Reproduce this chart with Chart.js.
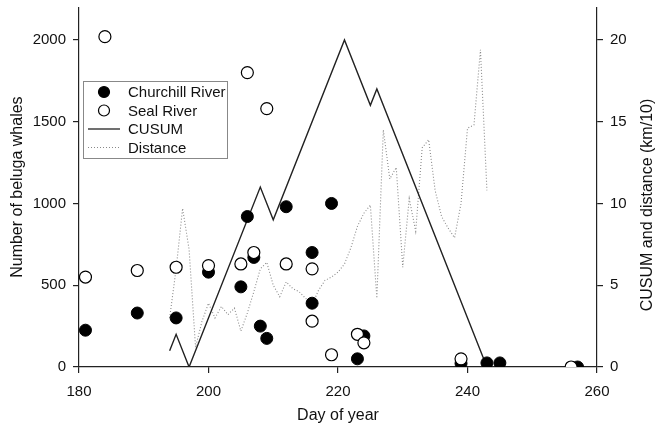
<!DOCTYPE html>
<html>
<head>
<meta charset="utf-8">
<script src="https://cdn.jsdelivr.net/npm/chart.js@4.4.1/dist/chart.umd.min.js"></script>
<style>
  html, body { margin: 0; padding: 0; background: #fff; }
  #wrap { width: 662px; height: 431px; }
</style>
</head>
<body>
<div id="wrap"><canvas id="chart" width="662" height="431"></canvas></div>
<script>
// Churchill River counts (filled circles)
const churchillDays = [181, 189, 195, 200, 205, 206, 207, 208, 209, 212, 216, 216, 219, 223, 224, 239, 243, 245, 257];
const churchillCounts = [225, 330, 300, 580, 490, 920, 670, 250, 175, 980, 700, 390, 1000, 50, 190, 22, 25, 25, 0];

// Seal River counts (open circles)
const sealDays = [181, 184, 189, 195, 200, 205, 206, 207, 209, 212, 216, 216, 219, 223, 224, 239, 256];
const sealCounts = [550, 2020, 590, 610, 620, 630, 1800, 700, 1580, 630, 600, 280, 75, 200, 148, 50, 0];

// CUSUM (right axis)
const cusumDays = [194, 195, 197, 208, 210, 221, 225, 226, 243];
const cusumValues = [1, 2, 0, 11, 9, 20, 16, 17, 0];

// Distance, km/10 (right axis)
const distDays = [194, 195, 196, 197, 198, 199, 200, 201, 202, 203, 204, 205, 206, 207, 208, 209, 210, 211, 212, 213,
  214, 215, 216, 217, 218, 219, 220, 221, 222, 223, 224, 225, 226, 227, 228, 229, 230, 231, 232, 233,
  234, 235, 236, 237, 238, 239, 240, 241, 242, 243];
const distValues = [3.0, 6.0, 9.7, 7.2, 1.2, 2.8, 3.9, 3.0, 3.7, 3.2, 3.6, 2.2, 3.3, 4.6, 6.0, 6.4, 5.0, 4.3, 5.2, 4.8,
  4.6, 4.2, 3.8, 4.7, 5.3, 5.5, 5.8, 6.3, 7.3, 8.6, 9.4, 9.9, 4.2, 14.5, 11.5, 12.2, 6.1, 10.3, 8.3, 13.4,
  13.9, 10.8, 9.2, 8.5, 7.9, 10.0, 14.6, 14.8, 19.4, 10.8];

const xTicks = [180, 200, 220, 240, 260];
const yTicks = [0, 500, 1000, 1500, 2000];
const y1Ticks = [0, 5, 10, 15, 20];

const pts = (xs, ys) => xs.map((x, i) => ({ x: x, y: ys[i] }));

const FONT = "'Liberation Sans', Arial, sans-serif";
const INK = "#222";

const legendItems = [
  { label: "Churchill River", kind: "filled" },
  { label: "Seal River", kind: "open" },
  { label: "CUSUM", kind: "line" },
  { label: "Distance", kind: "dotted" },
];

// legend box inside the plot + right axis title (reads bottom to top)
const boxLegend = {
  id: "boxLegend",
  afterDraw(chart) {
    const ctx = chart.ctx;
    const x0 = 83, y0 = 81, w = 144, h = 77;
    ctx.save();
    ctx.fillStyle = "#fff";
    ctx.fillRect(x0, y0, w, h);
    ctx.strokeStyle = "#888";
    ctx.lineWidth = 1;
    ctx.strokeRect(x0 + 0.5, y0 + 0.5, w, h);
    ctx.font = "15px " + FONT;
    ctx.textBaseline = "middle";
    legendItems.forEach((it, i) => {
      const cy = 92 + i * 18.5;
      ctx.setLineDash([]);
      if (it.kind === "filled" || it.kind === "open") {
        ctx.beginPath();
        ctx.arc(104, cy, 5.5, 0, Math.PI * 2);
        ctx.fillStyle = it.kind === "filled" ? "#000" : "#fff";
        ctx.fill();
        ctx.strokeStyle = "#000";
        ctx.lineWidth = 1.2;
        ctx.stroke();
      } else {
        ctx.beginPath();
        ctx.moveTo(88, cy);
        ctx.lineTo(120, cy);
        if (it.kind === "dotted") {
          ctx.setLineDash([1, 2]);
          ctx.strokeStyle = "#888";
          ctx.lineWidth = 1;
        } else {
          ctx.strokeStyle = INK;
          ctx.lineWidth = 1.3;
        }
        ctx.stroke();
      }
      ctx.setLineDash([]);
      ctx.fillStyle = "#111";
      ctx.fillText(it.label, 128, cy + 1);
    });

    ctx.translate(648, 205);
    ctx.rotate(-Math.PI / 2);
    ctx.font = "16px " + FONT;
    ctx.textAlign = "center";
    ctx.fillStyle = "#111";
    ctx.fillText("CUSUM and distance (km/10)", 0, 0);
    ctx.restore();
  },
};

const axisCommon = {
  border: { display: true, color: INK, width: 1.2 },
  grid: { display: true, drawOnChartArea: false, drawTicks: true, tickLength: 6, color: INK, lineWidth: 1.2 },
};
const tickStyle = (pad) => ({ color: "#111", font: { family: FONT, size: 15 }, padding: pad, callback: (v) => String(v) });

const fixVertical = (w) => (s) => {
  s.width = w;
  s.paddingTop = 0;
  s.paddingBottom = 0;
};

new Chart(document.getElementById("chart"), {
  data: {
    datasets: [
      {
        type: "scatter",
        label: "Seal River",
        data: pts(sealDays, sealCounts),
        yAxisID: "y",
        pointRadius: 6,
        pointBackgroundColor: "#fff",
        pointBorderColor: "#000",
        pointBorderWidth: 1.2,
        order: 0,
      },
      {
        type: "scatter",
        label: "Churchill River",
        data: pts(churchillDays, churchillCounts),
        yAxisID: "y",
        pointRadius: 6,
        pointBackgroundColor: "#000",
        pointBorderColor: "#000",
        pointBorderWidth: 1,
        order: 1,
      },
      {
        type: "line",
        label: "CUSUM",
        data: pts(cusumDays, cusumValues),
        yAxisID: "y1",
        borderColor: INK,
        borderWidth: 1.4,
        pointRadius: 0,
        tension: 0,
        fill: false,
        order: 2,
      },
      {
        type: "line",
        label: "Distance",
        data: pts(distDays, distValues),
        yAxisID: "y1",
        borderColor: "#8a8a8a",
        borderWidth: 1.1,
        borderDash: [1, 2],
        pointRadius: 0,
        tension: 0,
        fill: false,
        order: 3,
      },
    ],
  },
  options: {
    responsive: false,
    animation: false,
    layout: { padding: { top: 5, left: 0, right: 0, bottom: 0 } },
    plugins: {
      legend: { display: false },
      tooltip: { enabled: false },
    },
    scales: {
      x: {
        ...axisCommon,
        ticks: tickStyle(10),
        type: "linear",
        min: 180,
        max: 260,
        afterBuildTicks: (s) => { s.ticks = xTicks.map((v) => ({ value: v })); },
        afterFit: (s) => { s.height = 64; s.paddingLeft = 0; s.paddingRight = 0; },
        title: { display: true, text: "Day of year", color: "#111", font: { family: FONT, size: 16 }, padding: { top: 0, bottom: 6 } },
      },
      y: {
        ...axisCommon,
        ticks: tickStyle(7),
        type: "linear",
        position: "left",
        min: 0,
        max: 2200,
        afterBuildTicks: (s) => { s.ticks = yTicks.map((v) => ({ value: v })); },
        afterFit: fixVertical(79),
        title: { display: true, text: "Number of beluga whales", color: "#111", font: { family: FONT, size: 16 }, padding: { top: 8, bottom: 0 } },
      },
      y1: {
        ...axisCommon,
        ticks: tickStyle(7),
        type: "linear",
        position: "right",
        min: 0,
        max: 22,
        afterBuildTicks: (s) => { s.ticks = y1Ticks.map((v) => ({ value: v })); },
        afterFit: fixVertical(65),
        title: { display: false },
      },
    },
  },
  plugins: [boxLegend],
});
</script>
</body>
</html>
